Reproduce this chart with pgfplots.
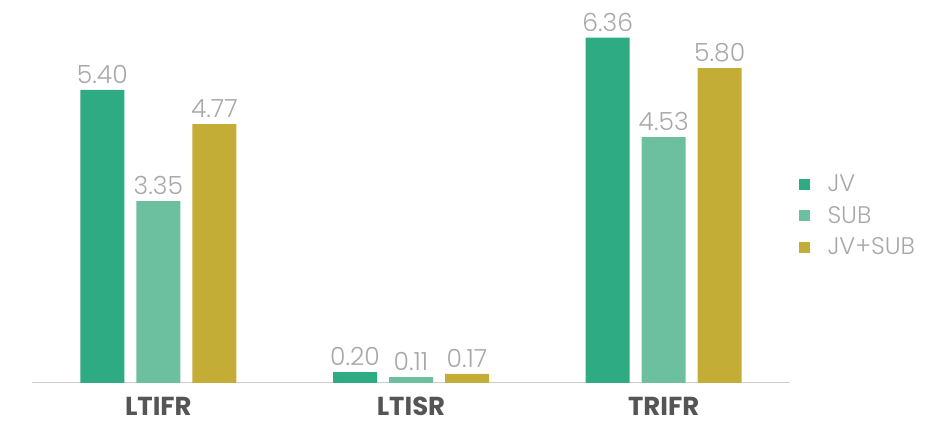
\documentclass[border=0pt]{standalone}
\usepackage{pgfplots}
\pgfplotsset{compat=1.18}
\usepackage{fontspec}
\setmainfont{Poppins}
\newfontfamily\lightfont{Poppins Light}
\definecolor{cJV}{HTML}{2EAB83}
\definecolor{cSUB}{HTML}{6CC0A0}
\definecolor{cJS}{HTML}{C4AD37}
\definecolor{valgray}{HTML}{A8A8A8}
\definecolor{catgray}{HTML}{555555}
\definecolor{axgray}{HTML}{CCCCCC}
\begin{document}
\begin{tikzpicture}
\begin{axis}[
  name=ax,
  scale only axis,
  width=758pt, height=380pt,
  xmin=-0.5, xmax=2.5, ymin=0, ymax=7,
  axis x line*=bottom, axis y line=none,
  axis line style={axgray, line width=1pt, -},
  ybar=12pt, bar width=44pt,
  xtick={0,1,2}, xticklabels={LTIFR,LTISR,TRIFR},
  major tick length=0pt,
  xticklabel style={font=\fontsize{26}{28}\selectfont\bfseries, text=catgray, inner sep=0pt, yshift=-14pt},
  ytick=\empty,
  /pgf/number format/assume math mode=true,
  nodes near coords,
  nodes near coords style={font=\lightfont\fontsize{25}{27}\selectfont, text=valgray, yshift=3pt,
    /pgf/number format/fixed, /pgf/number format/fixed zerofill, /pgf/number format/precision=2},
  legend cell align=left,
  legend style={at={(1.007,0.44)}, anchor=west, draw=none, fill=none, font=\lightfont\fontsize{24}{26}\selectfont, text=valgray, row sep=9pt},
  legend image code/.code={\path[#1,draw=none] (0pt,-5.5pt) rectangle (11pt,5.5pt); \path[draw=none,fill=none] (0pt,0pt) -- (27pt,0pt);},
]
\addplot[fill=cJV, draw=none] coordinates {(0,5.40) (1,0.20) (2,6.36)};
\addplot[fill=cSUB, draw=none] coordinates {(0,3.35) (1,0.11) (2,4.53)};
\addplot[fill=cJS, draw=none] coordinates {(0,4.77) (1,0.17) (2,5.80)};
\legend{JV,SUB,JV+SUB}
\end{axis}
\pgfresetboundingbox
\path[use as bounding box] ([shift={(-32pt,-41pt)}]ax.south west) rectangle ([shift={(157pt,3pt)}]ax.north east);
\end{tikzpicture}
\end{document}
